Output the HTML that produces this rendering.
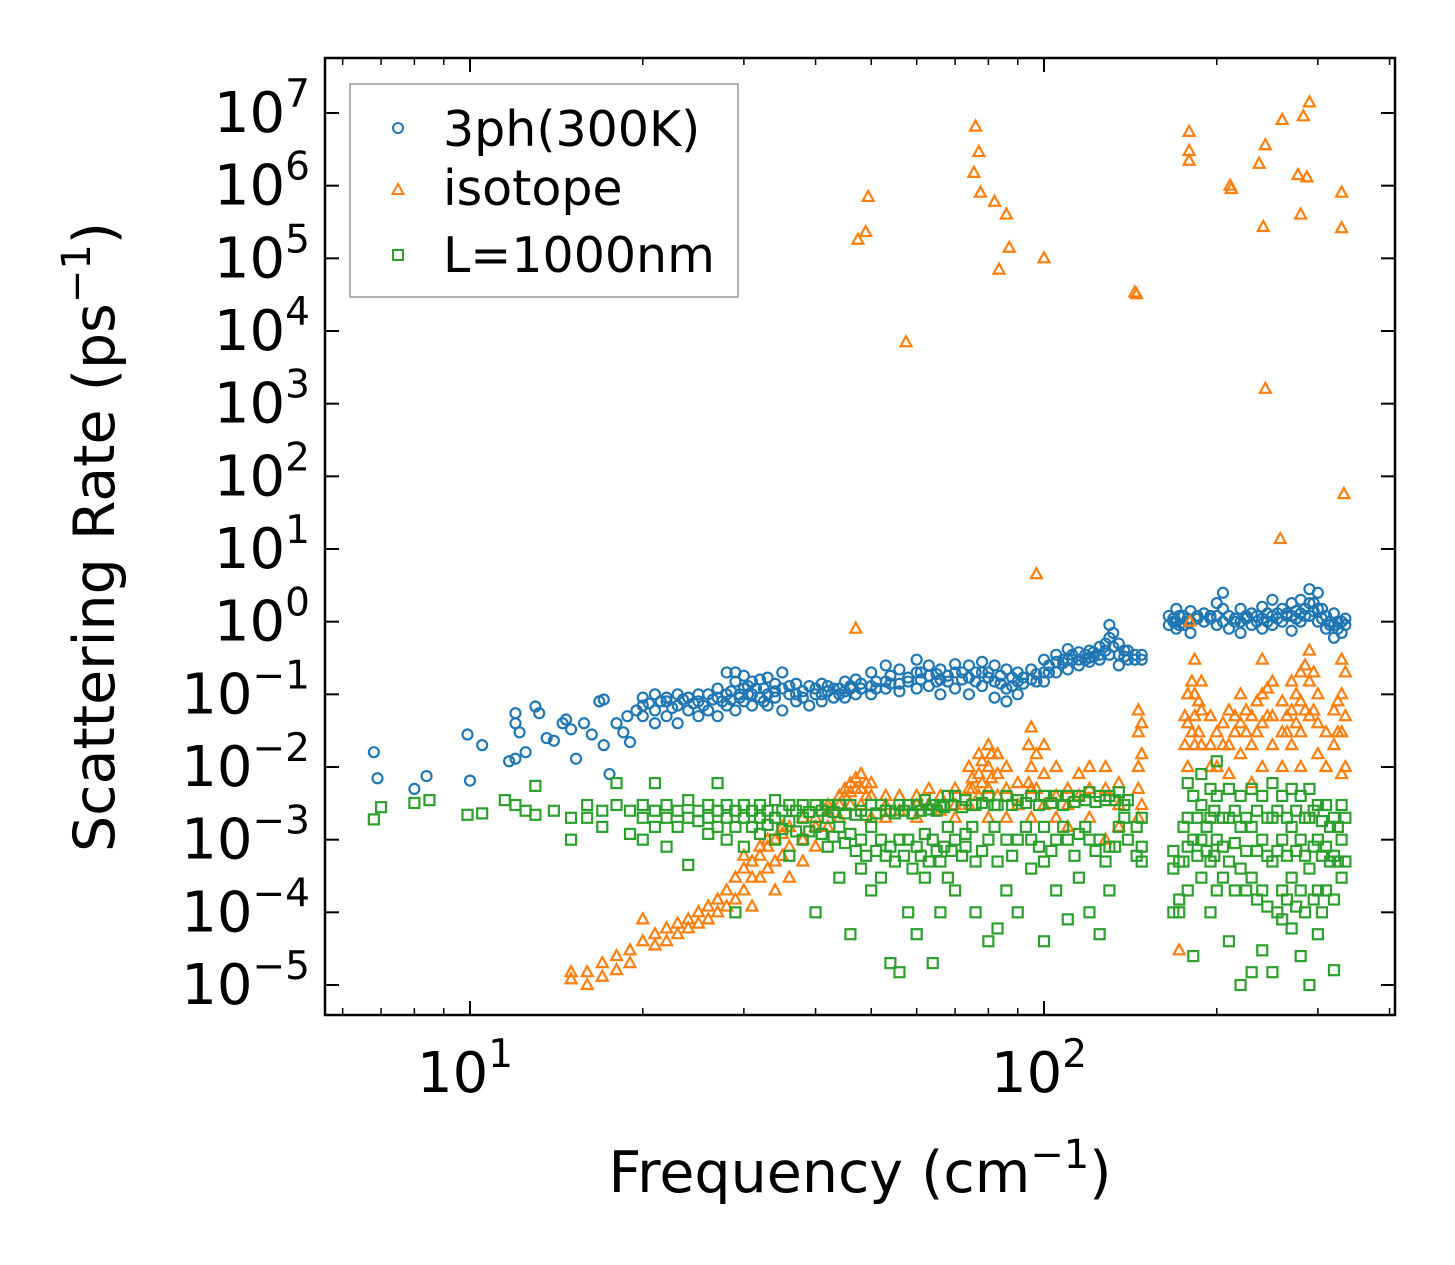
<!DOCTYPE html>
<html><head><meta charset="utf-8"><style>
html,body{margin:0;padding:0;background:#fff;}
svg{display:block;font-family:"DejaVu Sans","Liberation Sans",sans-serif;}
</style></head><body>
<svg id="chart" width="1455" height="1265" viewBox="0 0 1455 1265" xmlns="http://www.w3.org/2000/svg">
<rect width="1455" height="1265" fill="#fff"/>
<g id="marks"></g>
<g id="axes"></g>
<rect x="325" y="58" width="1070" height="957" fill="none" stroke="#000" stroke-width="2.5"/>
<text x="860" y="1192" font-size="57" text-anchor="middle">Frequency (cm<tspan font-size="40" dy="-24">−1</tspan><tspan dy="24">)</tspan></text>
<text transform="translate(114,537) rotate(-90)" font-size="57" text-anchor="middle">Scattering Rate (ps<tspan font-size="40" dy="-24">−1</tspan><tspan dy="24">)</tspan></text>
<g>
<rect x="350" y="84" width="388" height="213" fill="#fff" stroke="#999" stroke-width="1.5"/>
<circle cx="398" cy="128" r="5" fill="none" stroke="#1f77b4" stroke-width="2"/>
<text x="443" y="146" font-size="49">3ph(300K)</text>
<polygon points="398,184 392.5,194 403.5,194" fill="none" stroke="#ff7f0e" stroke-width="2"/>
<text x="443" y="205" font-size="49">isotope</text>
<rect x="393" y="250" width="10" height="10" fill="none" stroke="#2ca02c" stroke-width="2"/>
<text x="443" y="272" font-size="49">L=1000nm</text>
</g>
</svg>
<script>
const yTickExps = [7,6,5,4,3,2,1,0,-1,-2,-3,-4,-5];
const xTickExps = [1,2];
const xMinorTicks = [6,7,8,9,20,30,40,50,60,70,80,90,200,300,400];
const bluePts = [[6.8,[0.016]],[6.9,[0.007]],[8,[0.005]],[8.4,[0.0075]],[9.9,[0.028]],[10,[0.0065]],[10.5,[0.02]],[11.7,[0.012]],[12,[0.055,0.04,0.013]],[12.2,[0.03]],[12.5,[0.016]],[13,[0.068]],[13.2,[0.055]],[13.6,[0.025]],[14,[0.023]],[14.5,[0.04]],[14.7,[0.045]],[15,[0.033]],[15.3,[0.013]],[15.8,[0.04]],[16.3,[0.028]],[16.8,[0.08]],[17.1,[0.085,0.02]],[17.5,[0.008]],[18,[0.04]],[18.5,[0.03]],[18.8,[0.05]],[19,[0.022]],[19.5,[0.06]],
[20,[0.09,0.05,0.07]],[21,[0.1,0.06,0.04]],[22,[0.08,0.05,0.09]],[23,[0.07,0.1,0.04]],[24,[0.09,0.06]],[25,[0.1,0.05,0.08]],[26,[0.1,0.06]],[27,[0.12,0.05,0.09]],[28,[0.2,0.07,0.1]],[29,[0.2,0.15,0.06]],[30,[0.18,0.12,0.08]],[31,[0.15,0.07,0.1]],[32,[0.16,0.09]],[33,[0.17,0.1,0.07]],[35,[0.2,0.12,0.06]],[37,[0.14,0.08,0.1]],[39,[0.13,0.07]],[41,[0.14,0.1,0.08]],[43,[0.12,0.09]],[45,[0.15,0.11,0.09]],[47,[0.16,0.1]],[50,[0.2,0.13,0.1]],[53,[0.25,0.15,0.12]],[56,[0.22,0.14,0.11]],[60,[0.3,0.2,0.12]],[63,[0.25,0.18,0.13]],[66,[0.22,0.16,0.1]],[70,[0.26,0.2,0.12]],[74,[0.25,0.17,0.1]],[78,[0.28,0.2,0.13]],[82,[0.25,0.15,0.09]],[86,[0.22,0.12,0.08]],[90,[0.2,0.15,0.1]],[95,[0.22,0.16]],[100,[0.3,0.2,0.15]],[105,[0.35,0.28,0.2]],[110,[0.42,0.3,0.22]],[115,[0.38,0.3,0.25]],[120,[0.4,0.32,0.28]],[125,[0.45,0.35,0.3]],[130,[0.9,0.6,0.35]],[135,[0.5,0.35,0.25]],[140,[0.4,0.3]],[148,[0.35,0.3]],
[165,[1.2,0.9]],[170,[1.5,1.0,0.8]],[175,[1.2,0.9]],[180,[1.0,1.4,0.7]],[190,[1.3,1.0]],[200,[1.8,1.2,0.9]],[205,[2.5,1.5,1.0]],[210,[1.2,0.8]],[220,[1.5,1.0,0.7]],[230,[1.3,0.9]],[240,[1.6,1.1,0.8]],[250,[2.0,1.2,0.9]],[260,[1.5,1.0]],[270,[1.8,1.2,0.75]],[280,[2.0,1.3,1.0]],[290,[2.8,1.8,1.2]],[300,[2.5,1.5,1.0]],[310,[1.2,0.8]],[320,[1.3,0.9,0.6]],[330,[1.0,0.7]]];
const blueExtra = [[20.5,[0.075]],[21.5,[0.08]],[22.5,[0.065]],[23.5,[0.085]],[24.5,[0.075]],[25.5,[0.07]],[26.5,[0.085]],[27.5,[0.08]],[28.5,[0.11,0.085]],[29.5,[0.1,0.09]],[30.5,[0.1,0.13]],[31.5,[0.12]],[32.5,[0.12,0.08]],[34,[0.11,0.14,0.09]],[36,[0.1,0.13]],[38,[0.11,0.09]],[40,[0.12,0.1]],[42,[0.11,0.13]],[44,[0.12,0.1]],[46,[0.13,0.12]],[48,[0.12,0.14]],[51,[0.15,0.12]],[54,[0.18,0.14]],[58,[0.17,0.15]],[61,[0.2,0.16]],[65,[0.19,0.15]],[68,[0.18,0.15]],[72,[0.2,0.16]],[76,[0.2,0.15]],[80,[0.2,0.17]],[84,[0.18,0.14]],[88,[0.17,0.13]],[92,[0.17,0.14]],[97,[0.19,0.15]],[102,[0.25,0.2]],[108,[0.3,0.27]],[112,[0.35,0.3]],[118,[0.35,0.3]],[122,[0.38,0.33]],[128,[0.5,0.4]],[132,[0.7,0.45]],[138,[0.4,0.33]],[144,[0.35,0.3]],
[168,[1.1,1.0]],[172,[1.2,0.9]],[178,[1.1,1.0]],[185,[1.1,1.2]],[195,[1.1,1.2]],[215,[1.1,1.0]],[225,[1.1,1.2]],[235,[1.0,1.2]],[245,[1.3,1.0]],[255,[1.3,1.1]],[265,[1.2,1.3]],[275,[1.4,1.1]],[285,[1.5,1.2]],[295,[1.8,1.4]],[305,[1.5,1.1]],[315,[1.0,0.9]],[325,[1.0,0.8]],[335,[0.9,1.1]]];
const orangePts = [[47.4,[1.8e5]],[48.9,[2.3e5]],[49.4,[7e5]],[57.5,[7e3]],[75.5,[1.5e6]],[76,[6.5e6]],[77,[2.9e6]],[77.5,[8e5]],[82,[6e5]],[83.5,[7e4]],[86,[4e5]],[87,[1.4e5]],[100,[1e5]],[144,[3.4e4]],[145,[3.2e4]],[179,[5.5e6,3e6,2.2e6]],[211,[1e6]],[212,[9e5]],[237,[2e6]],[243,[3.6e6,1.6e3]],[241,[2.7e5]],[258,[13.7]],[260,[8e6]],[277,[1.4e6]],[280,[4e5]],[283,[9e6]],[287,[1.3e6]],[290,[1.4e7]],[330,[8e5,2.6e5]],[333,[57]],[97,[4.5]],[47,[0.8]],[179.5,[1.0]],
[15,[1.5e-5,1.2e-5]],[16,[1.5e-5,1e-5]],[17,[1.3e-5,2e-5]],[18,[2.5e-5,1.6e-5]],[19,[3e-5,2e-5]],[20,[4e-5,8e-5]],[21,[5e-5,3.5e-5]],[22,[6e-5,4e-5]],[23,[7e-5,5e-5]],[24,[8e-5,6e-5]],[25,[1e-4,7e-5]],[26,[1.2e-4,8e-5]],[27,[1.5e-4,1e-4]],[28,[2e-4,1.2e-4]],[29,[3e-4,1.5e-4]],[30,[4e-4,2e-4,6e-4]],[31,[5e-4,3e-4,1.2e-4]],[32,[6e-4,3e-4,8e-4]],[33,[8e-4,4e-4,1e-3]],[34,[1e-3,5e-4,2e-4]],[35,[1.2e-3,6e-4,1.5e-3]],[36,[1.5e-3,8e-4,3e-4]],[38,[2e-3,1e-3,5e-4]],[40,[2e-3,1.5e-3,8e-4]],[42,[3e-3,1.5e-3,2.5e-3]],[44,[4e-3,2e-3,3e-3]],[46,[6e-3,3e-3,4.5e-3]],[48,[8e-3,5e-3,3e-3]],[50,[6e-3,4e-3,2e-3]],[53,[3e-3,2e-3,4e-3]],[56,[4e-3,2.5e-3]],[60,[3e-3,2e-3,4e-3]],[63,[5e-3,3e-3]],[66,[4e-3,2.5e-3]],[70,[3e-3,5e-3,2e-3]],[74,[1e-2,5e-3,3e-3]],[77,[1.5e-2,8e-3,4e-3]],[80,[2e-2,1e-2,5e-3,2e-3]],[83,[1.5e-2,8e-3,4e-3]],[86,[1e-2,5e-3,2e-3]],[90,[6e-3,3e-3]],[95,[3.5e-2,1e-2,5e-3,2e-3]],[100,[2e-2,8e-3,3e-3]],[105,[1e-2,4e-3,2e-3]],[110,[5e-3,3e-3,1.5e-3]],[115,[8e-3,4e-3]],[120,[1e-2,5e-3,2e-3]],[128,[1e-2,5e-3,1e-3]],[135,[6e-3,3e-3,1.5e-3]],[146,[6e-2,3e-2,1e-2,5e-3,2e-3]],[148,[4e-2,1.5e-2,3e-3]],
[172,[3e-5]],[178,[0.1,0.04,0.01]],[183,[0.3,0.1,0.05,0.02]],[188,[0.15,0.06,0.02]],[195,[0.05,0.02,0.01]],[200,[0.03,0.01]],[210,[0.06,0.02,0.008]],[220,[0.1,0.04,0.015]],[230,[0.05,0.02,0.006]],[240,[0.3,0.1,0.04,0.01]],[250,[0.15,0.05,0.02]],[260,[0.08,0.03,0.01]],[270,[0.15,0.06,0.02]],[280,[0.2,0.08,0.03,0.01]],[290,[0.4,0.15,0.05]],[300,[0.1,0.04,0.015]],[310,[0.03,0.01]],[320,[0.06,0.02]],[330,[0.3,0.1,0.03,0.008]],[335,[0.2,0.05,0.01]]];
const orangeExtra = [[45,[5e-3,4e-3]],[47,[7e-3,5e-3]],[49,[6e-3,4e-3]],[75,[7e-3,5e-3]],[78,[1.2e-2,6e-3]],[81,[1.5e-2,7e-3]],[94,[2e-2,6e-3]],[97,[1.5e-2,5e-3]],[176,[0.05,0.02]],[181,[0.15,0.03]],[186,[0.08,0.03]],[205,[0.04,0.02]],[215,[0.05,0.03]],[225,[0.06,0.03]],[235,[0.08,0.03]],[245,[0.12,0.05]],[265,[0.05,0.03]],[275,[0.1,0.04]],[285,[0.25,0.06]],[295,[0.2,0.06]],[325,[0.08,0.03]]];
const greenPts = [[6.8,[1.9e-3]],[7,[2.8e-3]],[8,[3.2e-3]],[8.5,[3.5e-3]],[9.9,[2.2e-3]],[10.5,[2.3e-3]],[11.5,[3.5e-3]],[12,[3e-3]],[12.5,[2.5e-3]],[13,[2.2e-3,5.5e-3]],[14,[2.5e-3]],[15,[2e-3,1e-3]],[16,[3e-3,2e-3]],[17,[2.5e-3,1.5e-3]],[18,[6e-3,3e-3]],[19,[2.5e-3,1.2e-3]],[20,[3e-3,2e-3,1e-3]],[21,[6e-3,2.5e-3,1.5e-3]],[22,[3e-3,2e-3,8e-4]],[23,[2.5e-3,1.5e-3]],[24,[3.5e-3,2e-3,4.5e-4]],[25,[2.5e-3,1.8e-3]],[26,[3e-3,2e-3,1.2e-3]],[27,[6e-3,2.5e-3,1.5e-3]],[28,[3e-3,2e-3,1e-3]],[29,[2.5e-3,1.5e-3,1e-4]],[30,[3e-3,2e-3,8e-4]],[32,[3e-3,2e-3,1.2e-3]],[34,[3.5e-3,2e-3,1e-3]],[36,[3e-3,1.8e-3,6e-4]],[38,[3e-3,2e-3,1e-3]],[40,[3e-3,1.5e-3,1e-4]],[42,[3e-3,2e-3,8e-4]],[44,[3e-3,1.5e-3,3e-4]],[46,[3e-3,1.2e-3,5e-5]],[48,[2.5e-3,1e-3,4e-4]],[50,[3e-3,1.5e-3,2e-4]],[52,[3e-3,1e-3,3e-4]],[54,[2.5e-3,8e-4,2e-5]],[56,[3e-3,1e-3,1.5e-5]],[58,[3e-3,1e-3,1e-4]],[60,[3e-3,8e-4,5e-5]],[62,[3.5e-3,1.2e-3,3e-4]],[64,[3e-3,1e-3,2e-5]],[66,[3e-3,5e-4,1e-4]],[68,[4e-3,1.5e-3,3e-4]],[70,[4e-3,1e-3,2e-4]],[73,[3.5e-3,1.2e-3,8e-4]],[76,[3e-3,5e-4,1e-4]],[80,[4e-3,1e-3,4e-5]],[83,[3e-3,5e-4,6e-5]],[86,[4e-3,1e-3,2e-4]],[90,[3.5e-3,1e-3,1e-4]],[95,[4e-3,1e-3,4e-4]],[100,[4e-3,1.5e-3,5e-4,4e-5]],[105,[4e-3,1e-3,2e-4]],[110,[4e-3,1e-3,8e-5]],[115,[4e-3,1.2e-3,3e-4]],[120,[4.5e-3,1e-3,1e-4]],[125,[4e-3,1e-3,5e-5]],[130,[4e-3,8e-4,2e-4]],[135,[4.5e-3,1.5e-3]],[140,[3.5e-3,1e-3]],[148,[2e-3,8e-4,5e-4]],
[168,[7e-4,4e-4,1e-4]],[172,[5e-4,1.5e-4,1e-4]],[178,[6e-3,2e-3,8e-4,2e-4]],[182,[4e-3,1e-3,2.5e-5]],[188,[8e-3,3e-3,1e-3,3e-4]],[195,[5e-3,2e-3,5e-4,1e-4]],[200,[1.2e-2,4e-3,1e-3,2e-4]],[210,[5e-3,2e-3,5e-4,4e-5]],[220,[4e-3,1.5e-3,4e-4,1e-5]],[230,[5e-3,1.5e-3,3e-4,1.5e-5]],[240,[4e-3,1e-3,2e-4,3e-5]],[250,[6e-3,2e-3,5e-4,1.5e-5]],[260,[4e-3,1e-3,2e-4,8e-5]],[270,[5e-3,1.5e-3,3e-4,6e-5]],[280,[4e-3,1e-3,2e-4,2.5e-5]],[290,[5e-3,2e-3,4e-4,1e-5]],[300,[3e-3,1e-3,2e-4,5e-5]],[310,[3e-3,8e-4,2e-4]],[320,[2e-3,6e-4,1.5e-4,1.6e-5]],[330,[3e-3,1e-3,3e-4]],[335,[2e-3,5e-4]]];
const greenExtra = [[31,[2.5e-3,1.5e-3]],[33,[2.5e-3,1.6e-3]],[35,[2.5e-3,1.4e-3]],[37,[2.5e-3,1.3e-3]],[39,[2.4e-3,1.3e-3]],[41,[2.5e-3,1.2e-3]],[43,[2.4e-3,1.1e-3]],[45,[2.3e-3,9e-4]],[47,[2.2e-3,7e-4]],[49,[2.2e-3,6e-4]],[51,[2.3e-3,7e-4]],[53,[2.5e-3,6e-4]],[55,[2.3e-3,5e-4]],[57,[2.5e-3,6e-4]],[59,[2.3e-3,4e-4]],[61,[2.5e-3,6e-4]],[63,[2.6e-3,5e-4]],[65,[2.5e-3,7e-4]],[67,[2.8e-3,8e-4]],[69,[3e-3,7e-4]],[72,[2.8e-3,6e-4]],[75,[3e-3,1.5e-3]],[78,[3.2e-3,7e-4]],[82,[3e-3,1.5e-3]],[88,[3e-3,6e-4]],[93,[3.2e-3,1.5e-3]],[98,[3e-3,8e-4]],[103,[3.2e-3,7e-4]],[108,[3e-3,1.5e-3]],[113,[3.3e-3,6e-4]],[118,[3.5e-3,1.5e-3]],[123,[3.3e-3,7e-4]],[128,[3.5e-3,5e-4]],[133,[3.5e-3,8e-4]],[138,[3e-3,2e-3]],[145,[1.5e-3,6e-4]],
[175,[1.5e-3,5e-4]],[185,[2e-3,6e-4]],[192,[1.5e-3,7e-4]],[198,[2.5e-3,6e-4]],[205,[2e-3,8e-4,3e-4]],[215,[2.5e-3,9e-4,2e-4]],[225,[2e-3,7e-4,2e-4]],[235,[2.5e-3,7e-4,1.5e-4]],[245,[2e-3,6e-4,1.2e-4]],[255,[2.5e-3,7e-4,1e-4]],[265,[2e-3,6e-4,1.5e-4]],[275,[2.5e-3,7e-4,1.2e-4]],[285,[2e-3,6e-4,1e-4]],[295,[2.5e-3,8e-4,1.5e-4]],[305,[1.8e-3,6e-4,1e-4]],[315,[1.5e-3,5e-4]],[325,[1.5e-3,5e-4]]];

const NS='http://www.w3.org/2000/svg';
const L=325,R=1395,T=58,B=1015;
function xPos(f){return 470+(Math.log10(f)-1)*574;}
function yPos(v){return 113+(7-Math.log10(v))*72.667;}
function mk(tag,attrs,parent){const e=document.createElementNS(NS,tag);for(const k in attrs)e.setAttribute(k,attrs[k]);parent.appendChild(e);return e;}
const marks=document.getElementById('marks'),axes=document.getElementById('axes');
function drawSeries(pts,kind,color,name){
  const g=mk('g',{},marks);
  
  
  pts.forEach(p=>p[1].forEach(v=>{
    const x=xPos(p[0]),y=yPos(v);let e;
    if(kind==='c')e=mk('circle',{cx:x,cy:y,r:5,fill:'none',stroke:color,'stroke-width':2.2},g);
    else if(kind==='t')e=mk('polygon',{points:`${x},${y-6} ${x-5.5},${y+4} ${x+5.5},${y+4}`,fill:'none',stroke:color,'stroke-width':2.2},g);
    else e=mk('rect',{x:x-5,y:y-5,width:10,height:10,fill:'none',stroke:color,'stroke-width':2.2},g);
    
    
  }));
}
drawSeries(bluePts.concat(blueExtra),'c','#1f77b4','3ph');
drawSeries(orangePts.concat(orangeExtra),'t','#ff7f0e','isotope');
drawSeries(greenPts.concat(greenExtra),'s','#2ca02c','boundary');

yTickExps.forEach(e=>{
  const y=yPos(Math.pow(10,e));
  const t1=mk('line',{x1:L,x2:L+14,y1:y,y2:y,stroke:'#000','stroke-width':2},axes);
  
  
  const t2=mk('line',{x1:R-14,x2:R,y1:y,y2:y,stroke:'#000','stroke-width':2},axes);
  
  
  const tx=mk('text',{x:310,y:y+19,'font-size':56,'text-anchor':'end'},axes);
  
  
  tx.innerHTML='10<tspan font-size="39" dy="-25">'+(e<0?'−'+(-e):e)+'</tspan>';
});
xTickExps.forEach(e=>{
  const x=xPos(Math.pow(10,e));
  const t1=mk('line',{x1:x,x2:x,y1:B,y2:B-14,stroke:'#000','stroke-width':2},axes);
  
  
  const t2=mk('line',{x1:x,x2:x,y1:T,y2:T+14,stroke:'#000','stroke-width':2},axes);
  
  
  const tx=mk('text',{x:x-5,y:1092,'font-size':56,'text-anchor':'middle'},axes);
  
  
  tx.innerHTML='10<tspan font-size="39" dy="-25">'+e+'</tspan>';
});
xMinorTicks.forEach(f=>{
  const x=xPos(f);
  const t1=mk('line',{x1:x,x2:x,y1:B,y2:B-7,stroke:'#000','stroke-width':1.5},axes);
  
  
  const t2=mk('line',{x1:x,x2:x,y1:T,y2:T+7,stroke:'#000','stroke-width':1.5},axes);
  
  
});
</script>
</body></html>
